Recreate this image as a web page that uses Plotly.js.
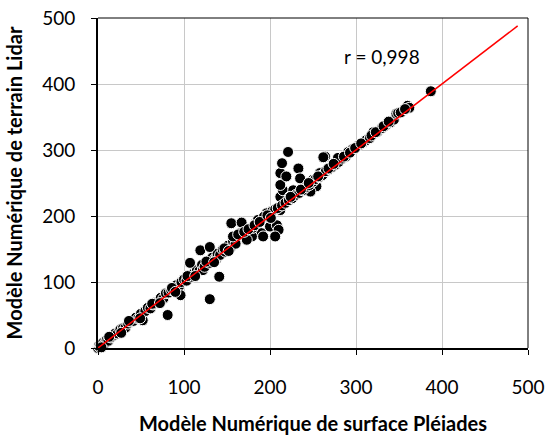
<!DOCTYPE html>
<html>
<head>
<meta charset="utf-8">
<script src="https://cdn.plot.ly/plotly-3.0.1.min.js"></script>
<style>html,body{margin:0;padding:0;background:#fff;}#chart{width:545px;height:435px;}</style>
</head>
<body>
<div id="chart"></div>
<script>
// Points (Pléiades surface model vs Lidar terrain model)
var pleiades = [
  0,1,2,3,5,6,8,10,12,15,18,20,23,26,29,32,35,38,41,44,47,50,52,55,58,61,64,67,70,73,76,79,82,85,88,91,94,97,
  100,103,106,109,112,115,118,121,122,124,127,130,133,136,138,139,142,145,148,151,154,157,160,
  81,96,130,141,119,130,155,167,107,
  157,165,177,184,190,196,200,208,210,206,192,179,173,180,163,170,186,193,199,203,
  212,212,215,212,212,214,221,219,233,235,227,223,243,250,258,264,266,278,254,247,
  206,209,214,218,222,226,230,234,238,242,246,250,253,257,261,265,269,272,276,280,284,288,
  262,279,291,296,303,308,312,316,320,325,330,335,340,344,347,349,354,360,362,387,
  4,13,27,36,49,63,72,86,90,104,113,126,135,147,152,175,182,188,197,201,
  224,236,245,256,268,274,286,293,299,306,318,323,332,338,352,357
];
var lidar = [
  0,3,1,4,5,8,7,12,11,16,19,22,22,28,30,31,37,40,41,46,45,52,42,56,61,60,66,69,70,76,75,83,84,88,87,95,93,100,
  104,102,110,108,114,118,117,126,118,123,131,129,137,135,136,143,141,149,146,155,152,162,158,
  50,80,74,108,148,153,189,190,129,
  169,174,179,189,174,204,184,186,179,169,169,169,164,182,172,176,194,199,198,208,
  209,229,239,247,265,280,297,260,272,257,239,229,245,255,265,290,270,285,245,237,
  210,212,216,220,224,227,232,235,239,244,247,252,256,259,262,268,271,274,278,282,287,290,
  289,288,297,301,307,311,315,318,327,328,333,338,342,346,355,356,359,367,364,389,
  1,17,23,41,45,67,68,91,85,109,109,131,130,151,147,180,186,191,201,197,
  229,240,250,260,272,279,290,296,303,310,322,327,336,343,357,362
];
// Regression line end points
var fitX = [0, 488];
var fitY = [0, 488];
var rLabel = 'r = 0,998';
var xTitle = 'Modèle Numérique de surface Pléiades';
var yTitle = 'Modèle Numérique de terrain Lidar';
var ticks = [0, 100, 200, 300, 400, 500];

var FONT = 'Lato, "Open Sans", sans-serif';

var data = [
  {x: pleiades, y: lidar, type: 'scatter', mode: 'markers',
   marker: {color: '#000', size: 11, line: {color: '#fff', width: 1}},
   hoverinfo: 'none', showlegend: false, cliponaxis: false},
  {x: fitX, y: fitY, type: 'scatter', mode: 'lines',
   line: {color: '#ff0000', width: 1.5}, hoverinfo: 'none', showlegend: false}
];

var layout = {
  width: 545, height: 435,
  margin: {l: 98, r: 17, t: 18, b: 87},
  paper_bgcolor: '#fff', plot_bgcolor: '#fff',
  font: {family: FONT, color: '#000', size: 19},
  showlegend: false,
  xaxis: {
    range: [0, 500], tickvals: ticks, ticktext: ticks.map(String),
    showgrid: true, gridcolor: '#c8c8c8', gridwidth: 1,
    zeroline: false, showline: true, linecolor: '#000', linewidth: 2,
    ticks: 'outside', ticklen: 5, tickcolor: '#000', tickwidth: 1,
    ticklabelstandoff: 16,
    tickfont: {family: FONT, size: 19, color: '#000'},
    automargin: false,
    title: {text: xTitle, font: {family: FONT, size: 20, color: '#000', weight: 'bold'}, standoff: 27}
  },
  yaxis: {
    range: [0, 500], tickvals: ticks, ticktext: ticks.map(String),
    showgrid: true, gridcolor: '#c8c8c8', gridwidth: 1,
    zeroline: false, showline: true, linecolor: '#000', linewidth: 2,
    ticks: 'outside', ticklen: 5, tickcolor: '#000', tickwidth: 1,
    ticklabelstandoff: 12,
    tickfont: {family: FONT, size: 19, color: '#000'},
    automargin: false,
    title: {text: yTitle, font: {family: FONT, size: 20, color: '#000', weight: 'bold'}, standoff: 14}
  },
  shapes: [
    {type: 'line', xref: 'paper', yref: 'paper', x0: 0, x1: 1, y0: 1, y1: 1, line: {color: '#000', width: 1}},
    {type: 'line', xref: 'paper', yref: 'paper', x0: 1, x1: 1, y0: 0, y1: 1, line: {color: '#000', width: 1}}
  ],
  annotations: [
    {x: 330, y: 441, xref: 'x', yref: 'y', text: rLabel, showarrow: false,
     font: {family: FONT, size: 19, color: '#000'}}
  ]
};

Plotly.newPlot('chart', data, layout, {staticPlot: true, displayModeBar: false});
</script>
</body>
</html>
